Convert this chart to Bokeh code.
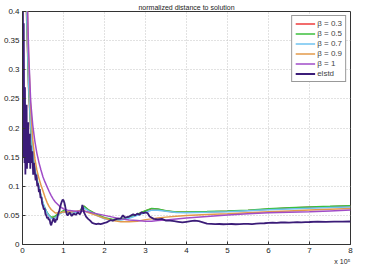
from bokeh.plotting import figure
from bokeh.models import Range1d, FixedTicker, NumeralTickFormatter, Title, Legend, LegendItem
from bokeh.embed import file_html
from bokeh.resources import INLINE

# ---- data (x in units of 1e5) ----
xs = [0.0, 0.05, 0.1, 0.15, 0.2, 0.25, 0.3, 0.35, 0.4, 0.45, 0.5, 0.55, 0.6, 0.65, 0.7,
      0.75, 0.8, 0.9, 1.0, 1.1, 1.2, 1.3, 1.4, 1.5, 1.6, 1.8, 2.0, 2.2, 2.4, 2.6, 2.8,
      3.0, 3.15, 3.3, 3.5, 3.75, 4.0, 4.5, 5.0, 5.5, 6.0, 6.5, 7.0, 7.5, 8.0]

beta_05 = [0.85, 0.55, 0.40, 0.27, 0.20, 0.155, 0.128, 0.112, 0.098, 0.084, 0.070, 0.062,
           0.055, 0.050, 0.047, 0.047, 0.049, 0.054, 0.058, 0.056, 0.055, 0.056, 0.058,
           0.066, 0.060, 0.052, 0.046, 0.043, 0.044, 0.047, 0.052, 0.058, 0.062, 0.061,
           0.058, 0.056, 0.0558, 0.0565, 0.0574, 0.059, 0.0612, 0.063, 0.0645, 0.0655, 0.0667]

beta_03 = [0.84, 0.54, 0.39, 0.265, 0.197, 0.153, 0.126, 0.110, 0.097, 0.083, 0.069, 0.061,
           0.054, 0.049, 0.046, 0.046, 0.048, 0.053, 0.057, 0.0555, 0.0545, 0.0555, 0.0575,
           0.0655, 0.0595, 0.0515, 0.0455, 0.0425, 0.0435, 0.0465, 0.0515, 0.0575, 0.0615,
           0.0605, 0.0575, 0.0555, 0.0553, 0.056, 0.057, 0.0585, 0.0607, 0.0625, 0.064,
           0.065, 0.0662]

beta_07 = [0.86, 0.56, 0.41, 0.275, 0.205, 0.158, 0.130, 0.113, 0.099, 0.085, 0.071, 0.062,
           0.054, 0.049, 0.045, 0.044, 0.046, 0.052, 0.056, 0.055, 0.054, 0.055, 0.057,
           0.063, 0.058, 0.050, 0.044, 0.041, 0.042, 0.045, 0.050, 0.055, 0.059, 0.059,
           0.057, 0.055, 0.0547, 0.0553, 0.0563, 0.058, 0.0596, 0.061, 0.0623, 0.0635, 0.0645]

beta_09 = [0.95, 0.65, 0.46, 0.32, 0.235, 0.18, 0.148, 0.128, 0.114, 0.102, 0.092, 0.081,
           0.072, 0.065, 0.060, 0.057, 0.054, 0.054, 0.056, 0.056, 0.056, 0.057, 0.058,
           0.058, 0.055, 0.050, 0.045, 0.041, 0.039, 0.039, 0.040, 0.0427, 0.044, 0.0455,
           0.047, 0.0485, 0.0497, 0.0515, 0.053, 0.0547, 0.0563, 0.0577, 0.0591, 0.0605, 0.0618]

beta_1 = [1.0, 0.72, 0.47, 0.33, 0.245, 0.205, 0.178, 0.157, 0.141, 0.128, 0.116, 0.107,
          0.099, 0.091, 0.084, 0.078, 0.073, 0.066, 0.061, 0.059, 0.058, 0.057, 0.057,
          0.057, 0.056, 0.053, 0.050, 0.047, 0.044, 0.042, 0.041, 0.040, 0.040, 0.041,
          0.042, 0.0438, 0.0454, 0.048, 0.0508, 0.053, 0.0547, 0.0555, 0.0563, 0.0577, 0.0591]

elstd_x = [0.0, 0.01, 0.02, 0.03, 0.04, 0.05, 0.06, 0.07, 0.08, 0.09, 0.10, 0.11, 0.12,
           0.13, 0.14, 0.15, 0.16, 0.17, 0.18, 0.19, 0.20, 0.22, 0.24, 0.26, 0.28, 0.30,
           0.32, 0.34, 0.36, 0.38, 0.40, 0.42, 0.44, 0.46, 0.48, 0.50, 0.52, 0.54, 0.56,
           0.58, 0.60, 0.62, 0.64, 0.66, 0.68, 0.70, 0.72, 0.74, 0.76, 0.78, 0.80, 0.82,
           0.84, 0.86, 0.88, 0.90, 0.92, 0.94, 0.96, 0.98, 1.00, 1.02, 1.04, 1.06, 1.08,
           1.10, 1.15, 1.20, 1.25, 1.30, 1.35, 1.40, 1.43, 1.46, 1.48, 1.50, 1.55, 1.60,
           1.65, 1.70, 1.75, 1.80, 1.85, 1.90, 1.95, 2.00, 2.05, 2.10, 2.15, 2.20, 2.30,
           2.40, 2.45, 2.50, 2.60, 2.70, 2.75, 2.80, 2.85, 2.90, 2.95, 3.00, 3.05, 3.10,
           3.20, 3.30, 3.40, 3.50, 3.60, 3.70, 3.80, 3.90, 4.00, 4.10, 4.20, 4.30, 4.40,
           4.50, 4.60, 4.70, 4.80, 4.90, 5.00, 5.10, 5.20, 5.30, 5.40, 5.50, 5.60, 5.70,
           5.80, 5.90, 6.00, 6.10, 6.20, 6.30, 6.40, 6.50, 6.60, 6.70, 6.80, 6.90, 7.00,
           7.20, 7.40, 7.60, 7.80, 8.00]

elstd_y = [0.20, 0.42, 0.15, 0.38, 0.22, 0.14, 0.27, 0.12, 0.18, 0.16, 0.24, 0.13, 0.19,
           0.15, 0.21, 0.14, 0.18, 0.15, 0.19, 0.13, 0.17, 0.14, 0.16, 0.12, 0.14, 0.125,
           0.11, 0.12, 0.10, 0.105, 0.09, 0.095, 0.08, 0.082, 0.07, 0.066, 0.06, 0.062,
           0.052, 0.05, 0.045, 0.047, 0.042, 0.044, 0.036, 0.033, 0.038, 0.042, 0.045,
           0.040, 0.038, 0.044, 0.042, 0.050, 0.055, 0.058, 0.065, 0.070, 0.074, 0.077,
           0.076, 0.072, 0.066, 0.058, 0.052, 0.050, 0.055, 0.049, 0.053, 0.051, 0.055,
           0.052, 0.056, 0.068, 0.062, 0.055, 0.048, 0.044, 0.041, 0.037, 0.036, 0.035,
           0.036, 0.035, 0.036, 0.037, 0.038, 0.040, 0.042, 0.041, 0.044, 0.045, 0.050,
           0.046, 0.048, 0.052, 0.050, 0.053, 0.051, 0.055, 0.054, 0.055, 0.054, 0.048,
           0.044, 0.043, 0.044, 0.041, 0.041, 0.040, 0.039, 0.038, 0.039, 0.040, 0.041,
           0.040, 0.038, 0.036, 0.0355, 0.035, 0.0352, 0.0348, 0.035, 0.0352, 0.0348,
           0.035, 0.0353, 0.0355, 0.035, 0.0358, 0.0362, 0.0365, 0.037, 0.0375, 0.0372,
           0.0378, 0.038, 0.0377, 0.038, 0.0383, 0.0381, 0.0385, 0.0386, 0.0392, 0.039,
           0.0394, 0.0393, 0.0395]

x_ticks = [0, 1, 2, 3, 4, 5, 6, 7, 8]
y_ticks = [0, 0.05, 0.1, 0.15, 0.2, 0.25, 0.3, 0.35, 0.4]

series = [
    ("\u03b2 = 0.3", beta_03, "#ee3b3b"),
    ("\u03b2 = 0.5", beta_05, "#3cbf3c"),
    ("\u03b2 = 0.7", beta_07, "#6fc3f0"),
    ("\u03b2 = 0.9", beta_09, "#e39a4a"),
    ("\u03b2 = 1", beta_1, "#a04cc8"),
]

FONT = "Liberation Sans"

p = figure(width=358, height=264, output_backend="svg", toolbar_location=None,
           x_range=Range1d(0, 8), y_range=Range1d(0, 0.4),
           min_border_left=4, min_border_right=8, min_border_top=2, min_border_bottom=2,
           title="normalized distance to solution")
p.title.text_font = FONT
p.title.text_font_size = "7px"
p.title.text_font_style = "normal"
p.title.align = "center"
p.title.text_color = "#222222"
p.title.standoff = 2

items = []
for name, ys, col in series:
    r = p.line(xs, ys, line_color=col, line_width=1.5)
    items.append(LegendItem(label=name, renderers=[r]))
re = p.line(elstd_x, elstd_y, line_color="#3b1c78", line_width=1.8)
items.append(LegendItem(label="elstd", renderers=[re]))

legend = Legend(items=items, location="top_right")
legend.label_text_font = FONT
legend.label_text_font_size = "8px"
legend.label_height = 9
legend.glyph_height = 9
legend.glyph_width = 20
legend.spacing = 1
legend.padding = 3
legend.margin = 4
legend.label_standoff = 2
legend.border_line_color = "#333333"
legend.border_line_width = 1
legend.background_fill_alpha = 1
p.add_layout(legend)

for ax in (p.xaxis[0], p.yaxis[0]):
    ax.axis_line_color = "#333333"
    ax.major_tick_line_color = "#333333"
    ax.major_tick_in = 3
    ax.major_tick_out = 0
    ax.minor_tick_line_color = None
    ax.major_label_text_font = FONT
    ax.major_label_text_font_size = "8px"
    ax.major_label_text_color = "#222222"
    ax.major_label_standoff = 3

p.xaxis[0].ticker = FixedTicker(ticks=x_ticks)
p.yaxis[0].ticker = FixedTicker(ticks=y_ticks)
p.yaxis[0].formatter = NumeralTickFormatter(format="0.[00]")

p.outline_line_color = "#333333"
p.outline_line_width = 1
p.grid.grid_line_color = "#c4c4c4"
p.grid.grid_line_dash = "1 2"

p.add_layout(Title(text="x 10\u2075", align="right", text_font=FONT, text_font_size="7px",
                   text_font_style="normal", text_color="#222222", standoff=0), "below")

open("out.html", "w").write(file_html(p, INLINE))
